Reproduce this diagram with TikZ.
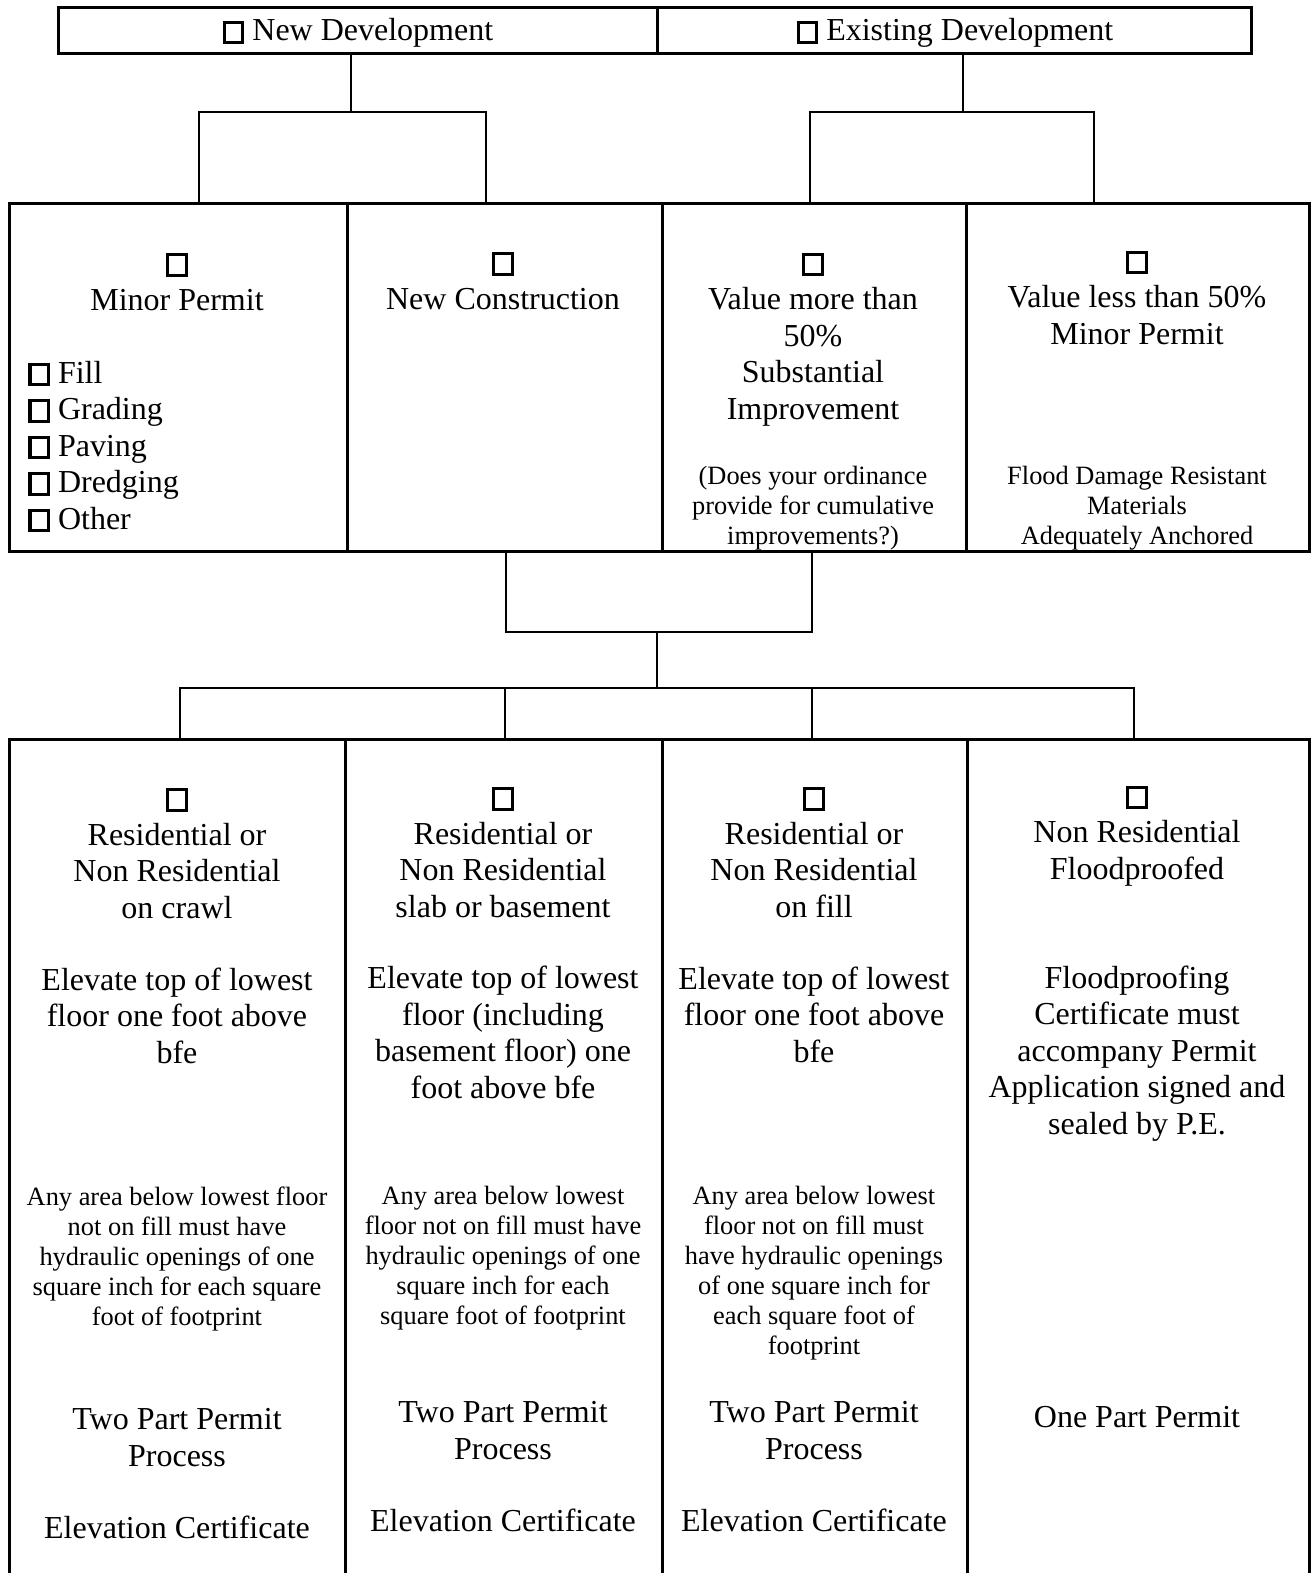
\documentclass[tikz,border=0pt]{standalone}
\usepackage{fontspec}
\setmainfont{Liberation Serif}
\newcommand\cbx{{\fboxsep=0pt\fboxrule=1.6pt\fbox{\rule{0pt}{8.6pt}\rule{7.6pt}{0pt}}}}
\tikzset{
  box/.style={draw, line width=1.6pt, inner sep=0pt, anchor=north west},
  conn/.style={line width=1pt},
  big/.style={font=\fontsize{16}{18.25}\selectfont, align=center, inner sep=0pt, anchor=base, yshift=-2pt},
  small/.style={font=\fontsize{13.2}{15}\selectfont, align=center, inner sep=0pt, anchor=base, yshift=-1.5pt},
}
\begin{document}
\begin{tikzpicture}[x=0.5pt,y=-0.5pt]
\useasboundingbox (0,0) rectangle (1314,1573);
% top bar
\node[box, minimum width=299.5pt, minimum height=23pt] (new) at (57,6) {};
\node[box, minimum width=297pt, minimum height=23pt] (exist) at (656,6) {};
% middle row
\node[box, minimum width=169pt, minimum height=174pt] (m1) at (8,202) {};
\node[box, minimum width=157.5pt, minimum height=174pt] (m2) at (346,202) {};
\node[box, minimum width=152pt, minimum height=174pt] (m3) at (661,202) {};
\node[box, minimum width=171.5pt, minimum height=174pt] (m4) at (965,202) {};
% bottom row
\node[box, minimum width=168pt, minimum height=421pt] (b1) at (8,738) {};
\node[box, minimum width=158.5pt, minimum height=421pt] (b2) at (344,738) {};
\node[box, minimum width=152.5pt, minimum height=421pt] (b3) at (661,738) {};
\node[box, minimum width=171pt, minimum height=421pt] (b4) at (966,738) {};
% junctions
\coordinate (a0) at (351,112); \coordinate (a1) at (199,112); \coordinate (a2) at (486,112);
\coordinate (e0) at (963,112); \coordinate (e1) at (810,112); \coordinate (e2) at (1094,112);
\coordinate (c1) at (506,632); \coordinate (c2) at (812,632); \coordinate (c0) at (657,632);
\coordinate (d0) at (657,688); \coordinate (d1) at (180,688); \coordinate (d2) at (505,688);
\coordinate (d3) at (812,688); \coordinate (d4) at (1134,688);
\draw[conn] (new.south -| a0) -- (a0);
\draw[conn] (m1.north -| a1) -- (a1) -- (a2) -- (m2.north -| a2);
\draw[conn] (exist.south -| e0) -- (e0);
\draw[conn] (m3.north -| e1) -- (e1) -- (e2) -- (m4.north -| e2);
\draw[conn] (m2.south -| c1) -- (c1) -- (c2) -- (m3.south -| c2);
\draw[conn] (c0) -- (d0);
\draw[conn] (b1.north -| d1) -- (d1) -- (d4) -- (b4.north -| d4);
\draw[conn] (d2) -- (b2.north -| d2);
\draw[conn] (d3) -- (b3.north -| d3);
% texts top (anchor base = baseline of last line)
\node[big] (tnew) at (358,37) {\cbx\ New Development};
\node[big] (texist) at (955,37) {\cbx\ Existing Development};
% middle texts
\node[big] (m1t) at (177,306) {\cbx\\Minor Permit};
\node[big, align=left, anchor=base west] (m1l) at (28,525) {\cbx\ Fill\\\cbx\ Grading\\\cbx\ Paving\\\cbx\ Dredging\\\cbx\ Other};
\node[big] (m2t) at (503,305) {\cbx\\New Construction};
\node[big] (m3t) at (813,415) {\cbx\\Value more than\\50\%\\Substantial\\Improvement};
\node[small] (m3s) at (813,541) {(Does your ordinance\\provide for cumulative\\improvements?)};
\node[big] (m4t) at (1137,340) {\cbx\\Value less than 50\%\\Minor Permit};
\node[small] (m4s) at (1137,541) {Flood Damage Resistant\\Materials\\Adequately Anchored};
% bottom texts
\node[big] (b1t) at (177,914) {\cbx\\Residential or\\Non Residential\\on crawl};
\node[big] (b1e) at (177,1059) {Elevate top of lowest\\floor one foot above\\bfe};
\node[small] (b1s) at (177,1322) {Any area below lowest floor\\not on fill must have\\hydraulic openings of one\\square inch for each square\\foot of footprint};
\node[big] (b1p) at (177,1462) {Two Part Permit\\Process};
\node[big] (b1c) at (177,1534) {Elevation Certificate};
\node[big] (b2t) at (503,913) {\cbx\\Residential or\\Non Residential\\slab or basement};
\node[big] (b2e) at (503,1094) {Elevate top of lowest\\floor (including\\basement floor) one\\foot above bfe};
\node[small] (b2s) at (503,1321) {Any area below lowest\\floor not on fill must have\\hydraulic openings of one\\square inch for each\\square foot of footprint};
\node[big] (b2p) at (503,1455) {Two Part Permit\\Process};
\node[big] (b2c) at (503,1527) {Elevation Certificate};
\node[big] (b3t) at (814,913) {\cbx\\Residential or\\Non Residential\\on fill};
\node[big] (b3e) at (814,1058) {Elevate top of lowest\\floor one foot above\\bfe};
\node[small] (b3s) at (814,1351) {Any area below lowest\\floor not on fill must\\have hydraulic openings\\of one square inch for\\each square foot of\\footprint};
\node[big] (b3p) at (814,1455) {Two Part Permit\\Process};
\node[big] (b3c) at (814,1527) {Elevation Certificate};
\node[big] (b4t) at (1137,875) {\cbx\\Non Residential\\Floodproofed};
\node[big] (b4e) at (1137,1130) {Floodproofing\\Certificate must\\accompany Permit\\Application signed and\\sealed by P.E.};
\node[big] (b4p) at (1137,1423) {One Part Permit};
\end{tikzpicture}
\end{document}
